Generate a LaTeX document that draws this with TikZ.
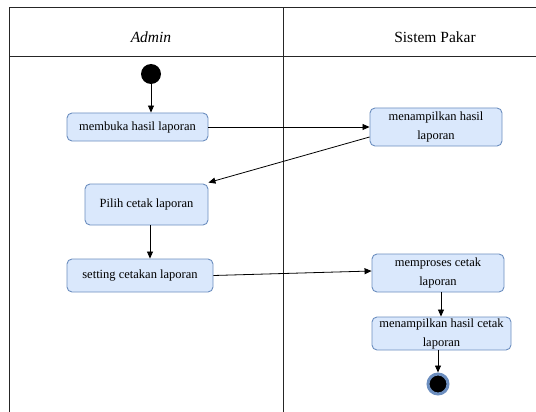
\documentclass[tikz,border=0pt]{standalone}
\usepackage{fontspec}
\setmainfont{Liberation Serif}
\usetikzlibrary{arrows.meta}
\definecolor{boxfill}{HTML}{DAE8FC}
\definecolor{boxline}{HTML}{6C8EBF}
\begin{document}
\begin{tikzpicture}[x=1pt,y=-1pt,
  act/.style={draw=boxline,fill=boxfill,rounded corners=5pt,line width=0.9pt,
    align=center,font=\fontsize{12.5}{19}\selectfont,inner sep=0pt},
  flow/.style={-{Triangle[length=7pt,width=6pt]},line width=0.8pt},
  frame/.style={line width=1pt,draw=black!85}]
\useasboundingbox (0,0) rectangle (536,412);
% swimlane frame
\draw[frame] (9,412) -- (9,8) -- (536,8);
\draw[frame] (283,8) -- (283,412);
\draw[frame] (9,57) -- (536,57);
\node[font=\fontsize{15.5}{18}\selectfont\itshape] (hA) at (151,37) {Admin};
\node[font=\fontsize{15.5}{18}\selectfont] (hS) at (435,37) {Sistem Pakar};
% nodes
\node[circle,fill=black,minimum size=20pt,inner sep=0pt] (start) at (151,74) {};
\node[act,minimum width=141pt,minimum height=28pt] (a1) at (137.5,127) {membuka hasil laporan};
\node[act,minimum width=132pt,minimum height=38pt] (s1) at (436,127) {menampilkan hasil\\laporan};
\node[act,minimum width=123pt,minimum height=41pt] (a2) at (146.5,204.5) {Pilih cetak laporan};
\node[act,minimum width=146pt,minimum height=33pt] (a3) at (140,275.5) {setting cetakan laporan};
\node[act,minimum width=132pt,minimum height=38pt] (s2) at (438,273) {memproses cetak\\laporan};
\node[act,minimum width=139pt,minimum height=33pt] (s3) at (441.5,333.5) {menampilkan hasil cetak\\laporan};
\node[circle,fill=black,draw=boxline,line width=3pt,minimum size=20pt,inner sep=0pt] (end) at (438,384) {};
% connectors
\draw[flow] (start) -- (a1.north -| start);
\draw[flow] (a1.east) -- (s1.west |- a1.east);
\draw[flow] ([yshift=-10pt]s1.west) -- ([yshift=1pt]a2.north east);
\draw[flow] (a2.south -| 150,0) -- (a3.north -| 150,0);
\draw[flow] (a3.east) -- ([yshift=2pt]s2.west);
\draw[flow] (s2.south -| 441,0) -- (s3.north -| 441,0);
\draw[flow] (s3.south -| end) -- (end);
\end{tikzpicture}
\end{document}
